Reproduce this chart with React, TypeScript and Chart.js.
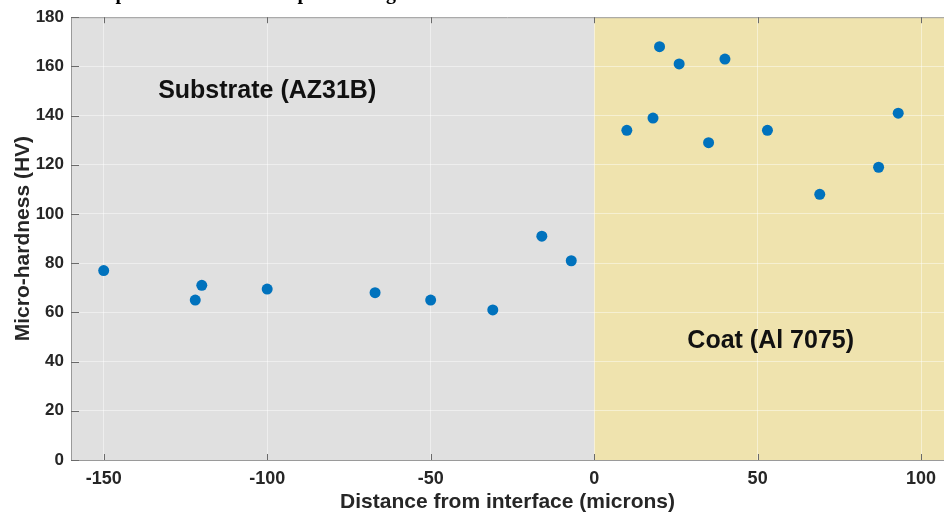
import React, { useEffect, useRef } from "react";
import { Chart, registerables } from "chart.js";

Chart.register(...registerables);

// ---- data ----
const distances = [-150, -122, -120, -100, -67, -50, -31, -16, -7, 10, 18, 20, 26, 35, 40, 53, 69, 87, 93];
const hardness = [77, 65, 71, 69.5, 68, 65, 61, 91, 81, 134, 139, 168, 161, 129, 163, 134, 108, 119, 141];
const xTicks = [-150, -100, -50, 0, 50, 100];
const yTicks = [0, 20, 40, 60, 80, 100, 120, 140, 160, 180];
const xLimits = [-160, 107];
const yLimits = [0, 180];
const interfaceAt = 0;
const regionNames = ["Substrate (AZ31B)", "Coat (Al 7075)"];
const regionNameX = [-100, 54];
const regionNameY = [150, 48.5];
const xTitle = "Distance from interface (microns)";
const yTitle = "Micro-hardness (HV)";

const FONT = "'Liberation Sans', Arial, Helvetica, sans-serif";
const GREY_BG = "#e0e0e0";
const YELLOW_BG = "#efe3ae";
const DOT = "#0072bd";

const backgroundPlugin = {
  id: "regions",
  beforeDraw(chart: any) {
    const { ctx, chartArea } = chart;
    const x0 = chart.scales.x.getPixelForValue(interfaceAt);
    ctx.save();
    ctx.fillStyle = GREY_BG;
    ctx.fillRect(chartArea.left, chartArea.top, x0 - chartArea.left, chartArea.bottom - chartArea.top);
    ctx.fillStyle = YELLOW_BG;
    ctx.fillRect(x0, chartArea.top, chartArea.right - x0, chartArea.bottom - chartArea.top);
    ctx.restore();
  },
  afterDraw(chart: any) {
    const { ctx, chartArea } = chart;
    const xs = chart.scales.x;
    const ys = chart.scales.y;
    ctx.save();
    // top border
    ctx.strokeStyle = "#9a9a9a";
    ctx.lineWidth = 1;
    ctx.beginPath();
    ctx.moveTo(chartArea.left, chartArea.top + 0.5);
    ctx.lineTo(chartArea.right, chartArea.top + 0.5);
    ctx.stroke();
    // inner tick marks
    ctx.strokeStyle = "#6a6a6a";
    ctx.beginPath();
    xTicks.forEach((v) => {
      const px = Math.round(xs.getPixelForValue(v)) + 0.5;
      ctx.moveTo(px, chartArea.bottom);
      ctx.lineTo(px, chartArea.bottom - 6);
      ctx.moveTo(px, chartArea.top);
      ctx.lineTo(px, chartArea.top + 6);
    });
    yTicks.forEach((v) => {
      const py = Math.round(ys.getPixelForValue(v)) + 0.5;
      ctx.moveTo(chartArea.left, py);
      ctx.lineTo(chartArea.left + 8, py);
    });
    ctx.stroke();
    // region labels
    ctx.fillStyle = "#111111";
    ctx.font = `bold 25px ${FONT}`;
    ctx.textAlign = "center";
    ctx.textBaseline = "middle";
    regionNames.forEach((name, i) => {
      ctx.fillText(name, xs.getPixelForValue(regionNameX[i]), ys.getPixelForValue(regionNameY[i]));
    });
    // cropped caption remnants above the figure
    ctx.fillStyle = "#000000";
    ctx.font = `bold 20px 'Liberation Serif', 'DejaVu Serif', serif`;
    ctx.textAlign = "center";
    ctx.textBaseline = "alphabetic";
    ctx.fillText("p", 121, -1);
    ctx.fillText("p", 303, -1);
    ctx.fillText("g", 391, -1);
    ctx.restore();
  },
};

export default function App() {
  const ref = useRef<HTMLCanvasElement | null>(null);

  useEffect(() => {
    if (!ref.current) return;
    const chart = new Chart(ref.current, {
      type: "scatter",
      data: {
        datasets: [
          {
            data: distances.map((d, i) => ({ x: d, y: hardness[i] })),
            backgroundColor: DOT,
            borderColor: DOT,
            pointRadius: 5.5,
            pointBorderWidth: 0,
          },
        ],
      },
      options: {
        responsive: false,
        animation: false,
        layout: { autoPadding: false, padding: { top: 16, left: 0, right: 0, bottom: 0 } },
        plugins: {
          legend: { display: false },
          tooltip: { enabled: false },
        },
        scales: {
          x: {
            type: "linear",
            min: xLimits[0],
            max: xLimits[1],
            afterBuildTicks: (s: any) => {
              s.ticks = xTicks.map((v) => ({ value: v }));
            },
            afterFit: (s: any) => {
              s.height = 55;
              s.paddingLeft = 0;
              s.paddingRight = 0;
            },
            grid: { color: "rgba(255,255,255,0.45)", lineWidth: 1, drawTicks: false },
            border: { display: true, color: "#9a9a9a", width: 1 },
            ticks: {
              padding: 8,
              color: "#262626",
              font: { family: FONT, size: 18, weight: "bold" },
            },
            title: {
              display: true,
              text: xTitle,
              color: "#262626",
              font: { family: FONT, size: 21, weight: "bold" },
              padding: { top: 0, bottom: 0 },
            },
          },
          y: {
            type: "linear",
            min: yLimits[0],
            max: yLimits[1],
            afterBuildTicks: (s: any) => {
              s.ticks = yTicks.map((v) => ({ value: v }));
            },
            afterFit: (s: any) => {
              s.width = 71;
            },
            grid: { color: "rgba(255,255,255,0.45)", lineWidth: 1, drawTicks: false },
            border: { display: true, color: "#9a9a9a", width: 1 },
            ticks: {
              padding: 7,
              color: "#262626",
              font: { family: FONT, size: 17, weight: "bold" },
            },
            title: {
              display: true,
              text: yTitle,
              color: "#262626",
              font: { family: FONT, size: 21, weight: "bold" },
              padding: { top: 11, bottom: 11 },
            },
          },
        },
      },
      plugins: [backgroundPlugin],
    } as any);
    return () => chart.destroy();
  }, []);

  return (
    <div style={{ position: "absolute", left: 0, top: 0, width: 944, height: 515, background: "#ffffff" }}>
      <canvas ref={ref} width={944} height={515} style={{ display: "block" }} />
    </div>
  );
}
